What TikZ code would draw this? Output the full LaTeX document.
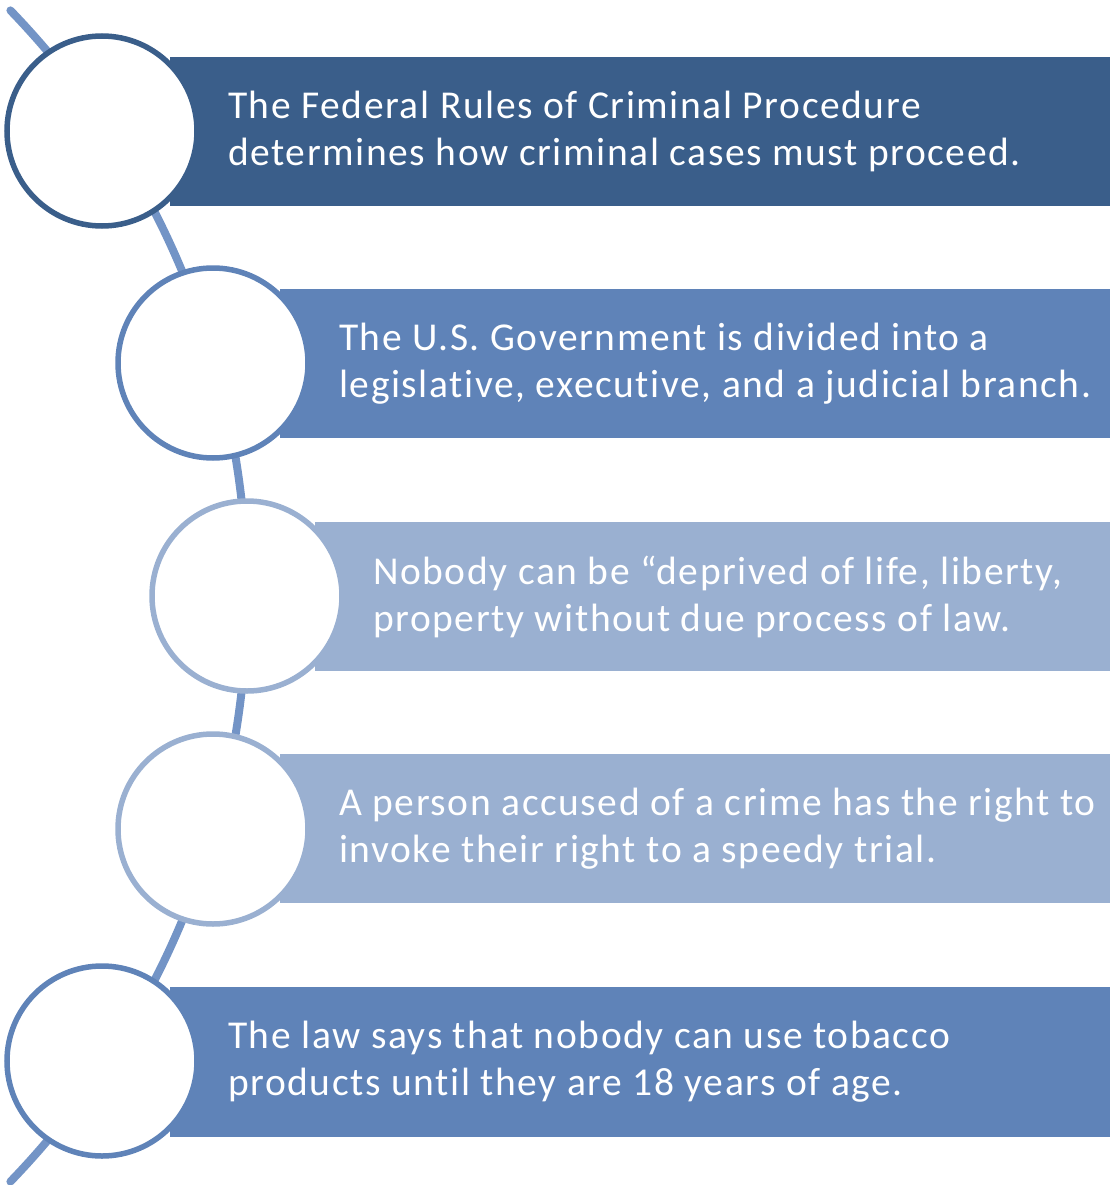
\documentclass[tikz,border=0pt]{standalone}
\usepackage{fontspec}
\setmainfont{Carlito}[LetterSpace=4, Ligatures=NoCommon]
\definecolor{cdark}{HTML}{3A5E8A}
\definecolor{cmid}{HTML}{5F83B8}
\definecolor{clight}{HTML}{9AB0D1}
\definecolor{carc}{HTML}{7394C6}
\tikzset{
  bar/.style={fill=#1, draw=none},
  ring/.style={circle, draw=#1, line width=5.5pt, fill=white, minimum size=190pt, inner sep=0pt},
  label/.style={anchor=west, align=left, text=white, inner sep=0pt,
    font=\fontsize{39.5}{47}\selectfont},
}
\begin{document}
\begin{tikzpicture}[x=1pt,y=-1pt]
\useasboundingbox (0,0) rectangle (1110,1185);
% arc spine
\draw[carc, line width=8pt, line cap=round] (-596,596) ++(-44:843) arc[start angle=-44, end angle=44, radius=843];
% bars
\fill[cdark]  (170,57)  rectangle (1110,206);
\fill[cmid]   (280,289) rectangle (1110,438);
\fill[clight] (315,522) rectangle (1110,671);
\fill[clight] (280,754) rectangle (1110,903);
\fill[cmid]   (170,987) rectangle (1110,1137);
% circles
\node[ring=cdark]  (c1) at (102,131) {};
\node[ring=cmid]   (c2) at (213,363) {};
\node[ring=clight] (c3) at (247,596) {};
\node[ring=clight] (c4) at (213,829) {};
\node[ring=cmid]   (c5) at (102,1061) {};
% texts
\node[label] (t1) at (228,131.5) {The Federal Rules of Criminal Procedure\\determines how criminal cases must proceed.};
\node[label] (t2) at (339,363.5) {The U.S. Government is divided into a\\legislative, executive, and a judicial branch.};
\node[label] (t3) at (373,596.5) {Nobody can be “deprived of life, liberty,\\property without due process of law.};
\node[label] (t4) at (339,828.5) {A person accused of a crime has the right to\\invoke their right to a speedy trial.};
\node[label] (t5) at (228,1062) {The law says that nobody can use tobacco\\products until they are 18 years of age.};
\end{tikzpicture}
\end{document}
